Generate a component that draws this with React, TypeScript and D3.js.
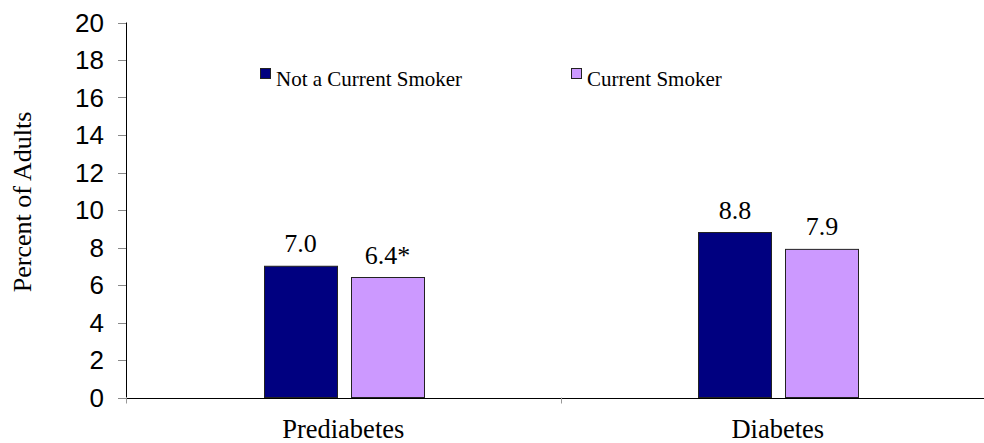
import React from "react";
import * as d3 from "d3";

const categories = ["Prediabetes", "Diabetes"];
const seriesNames = ["Not a Current Smoker", "Current Smoker"];
const notSmoker = [7.0, 8.8];
const smoker = [6.4, 7.9];
const valueLabels = [["7.0", "8.8"], ["6.4*", "7.9"]];
const yTicks = [0, 2, 4, 6, 8, 10, 12, 14, 16, 18, 20];

const W = 984;
const H = 443;
const colors = ["#000080", "#CC99FF"];
const serif = "'Liberation Serif', 'Times New Roman', serif";
const sans = "'Liberation Sans', Arial, sans-serif";

export default function App() {
  const left = 126;
  const bottom = 397.5;
  const top = 22.5;
  const y = d3.scaleLinear().domain([0, 20]).range([bottom, top]);
  const x = d3.scaleBand<string>().domain(categories).range([left, left + 869]).padding(0);
  const bw = x.bandwidth();
  const sub = d3
    .scaleBand<number>()
    .domain([0, 1])
    .range([bw * 0.3176, bw * 0.3176 + 160])
    .paddingInner(14 / 87)
    .paddingOuter(0);
  const series = [notSmoker, smoker];

  return (
    <svg
      width={W}
      height={H}
      style={{ position: "absolute", left: 0, top: 0, background: "#fff" }}
    >
      {/* y axis */}
      <line x1={left + 0.5} x2={left + 0.5} y1={y(20)} y2={bottom} stroke="#000" />
      {yTicks.map((t) => (
        <g key={t}>
          <line x1={left - 8} x2={left} y1={Math.round(y(t)) + 0.5} y2={Math.round(y(t)) + 0.5} stroke="#888" />
          <text
            x={104}
            y={y(t)}
            dy="0.36em"
            textAnchor="end"
            fontFamily={sans}
            fontSize={26}
            fill="#000"
          >
            {t}
          </text>
        </g>
      ))}
      <text
        transform={`translate(31,${202}) rotate(-90)`}
        textAnchor="middle"
        fontFamily={serif}
        fontSize={26}
        fill="#000"
      >
        Percent of Adults
      </text>

      {/* bars */}
      {categories.map((c, ci) =>
        series.map((s, si) => {
          const bx = (x(c) as number) + (sub(si) as number);
          const by = y(s[ci]);
          return (
            <g key={c + si}>
              <rect
                x={Math.round(bx) + 0.5}
                y={by}
                width={sub.bandwidth()}
                height={bottom - by}
                fill={colors[si]}
                stroke="#222"
                strokeWidth={1}
              />
              <text
                x={bx + sub.bandwidth() / 2}
                y={by - 14}
                textAnchor="middle"
                fontFamily={serif}
                fontSize={26}
                fill="#000"
              >
                {valueLabels[si][ci]}
              </text>
            </g>
          );
        })
      )}

      {/* x axis */}
      <line x1={left} x2={W} y1={Math.round(bottom) + 0.5} y2={Math.round(bottom) + 0.5} stroke="#000" />
      {[left, left + bw].map((tx, i) => (
        <line
          key={i}
          x1={Math.round(tx) + 0.5}
          x2={Math.round(tx) + 0.5}
          y1={bottom}
          y2={bottom + 6}
          stroke="#999"
        />
      ))}
      {categories.map((c) => (
        <text
          key={c}
          x={(x(c) as number) + bw / 2}
          y={438}
          textAnchor="middle"
          fontFamily={serif}
          fontSize={26.5}
          fill="#000"
        >
          {c}
        </text>
      ))}

      {/* legend */}
      {seriesNames.map((n, i) => {
        const lx = [260, 571][i];
        return (
          <g key={n}>
            <rect x={lx + 0.5} y={68.5} width={10} height={10} fill={colors[i]} stroke="#222" />
            <text x={lx + 16} y={85.5} fontFamily={serif} fontSize={21} fill="#000">
              {n}
            </text>
          </g>
        );
      })}
    </svg>
  );
}
